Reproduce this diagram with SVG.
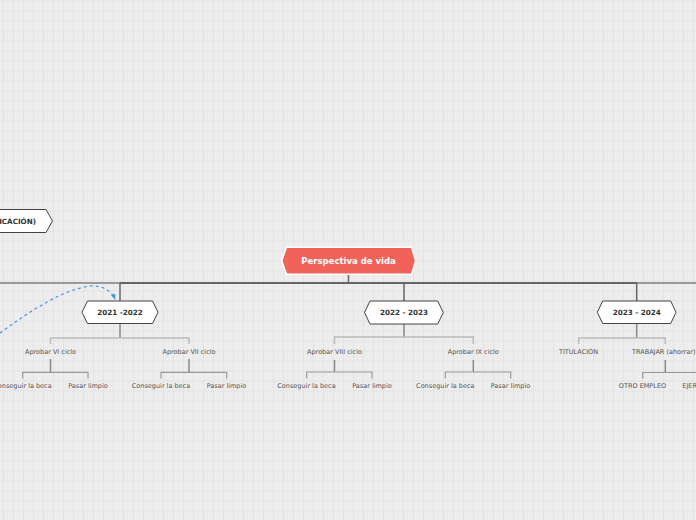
<svg xmlns="http://www.w3.org/2000/svg" width="696" height="520" viewBox="0 0 696 520">
<defs>
<pattern id="grid" x="3" y="0.5" width="10" height="10" patternUnits="userSpaceOnUse">
<path d="M0.5 0V10M0 0.5H10" stroke="#e3e3e3" stroke-width="1" fill="none"/>
</pattern>
<marker id="arr" viewBox="0 0 10 10" refX="8" refY="5" markerWidth="5" markerHeight="5" orient="auto">
<path d="M0 1L9 5L0 9z" fill="#4a90e2"/>
</marker>
<style>
.yr{fill:#fff;stroke:#444;stroke-width:1}
.yt{font-family:"DejaVu Sans",sans-serif;font-weight:bold;font-size:7.2px;fill:#333;text-anchor:middle}
.st{font-family:"DejaVu Sans",sans-serif;font-size:6.5px;fill:#555;text-anchor:middle}
.c1{stroke:#888;stroke-width:1.5;fill:none}
.c2{stroke:#bbb;stroke-width:1.5;fill:none}
.c3{stroke:#999;stroke-width:1.2;fill:none}
</style>
</defs>
<rect width="696" height="520" fill="#ededed"/>
<rect width="696" height="520" fill="url(#grid)"/>

<g id="connectors">
<path d="M0 283H120" stroke="#999" stroke-width="2"/>
<path d="M120 283H637" stroke="#666" stroke-width="2"/>
<path d="M637 283H696" stroke="#999" stroke-width="2"/>
<path d="M348.5 274V283M120 283V301M404 283V301M636.7 283V301" stroke="#666" stroke-width="1.5" fill="none"/>
<path class="c1" d="M120 323.5V338"/>
<path class="c2" d="M50.5 344V338H189V344"/>
<path class="c1" d="M50.5 359V372"/>
<path class="c3" d="M22.7 378.5V372.3H88V378.5"/>
<path class="c1" d="M189 359V372"/>
<path class="c3" d="M161 378.5V372.3H226.7V378.5"/>
<path class="c1" d="M404 324V337"/>
<path class="c2" d="M334.5 344V337H473.3V344"/>
<path class="c1" d="M334.5 360V372"/>
<path class="c3" d="M306.7 378.5V372H372V378.5"/>
<path class="c1" d="M473.3 360V372"/>
<path class="c3" d="M445.3 378.5V372H510.7V378.5"/>
<path class="c1" d="M636.7 323.5V338"/>
<path class="c2" d="M578.7 344V338H665.3V344"/>
<path class="c1" d="M665.3 360V372.5"/>
<path class="c3" d="M642.7 378.5V372.5H700"/>
<path d="M0 333C25 315 60 290 90 286C104 285 112 292 115 299" stroke="#4a90e2" stroke-width="1.2" stroke-dasharray="3 3" fill="none" marker-end="url(#arr)"/>
</g>

<g id="node-left">
<polygon class="yr" points="-10,209.5 46,209.5 52.5,221 46,232.5 -10,232.5"/>
<text class="yt" x="36" y="223.5" style="text-anchor:end">ICACIÓN)</text>
</g>

<g id="node-root">
<polygon points="281.7,260.7 286.5,247.3 411.5,247.3 415.7,260.7 411.5,274.3 286.5,274.3" fill="#f1635a" stroke="#fff" stroke-width="1.5"/>
<text x="348.5" y="264" font-family="DejaVu Sans, sans-serif" font-weight="bold" font-size="8.5" fill="#fff" text-anchor="middle">Perspectiva de vida</text>
</g>

<g id="node-2021">
<polygon class="yr" points="82,312.3 87.5,301 152.5,301 158,312.3 152.5,323.5 87.5,323.5"/>
<text class="yt" x="120" y="315">2021 -2022</text>
</g>
<g id="node-2022">
<polygon class="yr" points="364.5,312.5 370,301 437.7,301 443.3,312.5 437.7,324 370,324"/>
<text class="yt" x="404" y="315.2">2022 - 2023</text>
</g>
<g id="node-2023">
<polygon class="yr" points="597.3,312.3 602.7,301 670.7,301 676,312.3 670.7,323.5 602.7,323.5"/>
<text class="yt" x="636.7" y="315">2023 - 2024</text>
</g>

<g id="node-vi"><text class="st" x="50.5" y="354.3">Aprobar VI ciclo</text></g>
<g id="node-vi-a"><text class="st" x="22.5" y="387.7">Conseguir la beca</text></g>
<g id="node-vi-b"><text class="st" x="88" y="387.7">Pasar limpio</text></g>
<g id="node-vii"><text class="st" x="189" y="354.3">Aprobar VII ciclo</text></g>
<g id="node-vii-a"><text class="st" x="161" y="387.7">Conseguir la beca</text></g>
<g id="node-vii-b"><text class="st" x="226.5" y="387.7">Pasar limpio</text></g>
<g id="node-viii"><text class="st" x="334.5" y="354">Aprobar VIII ciclo</text></g>
<g id="node-viii-a"><text class="st" x="306.5" y="387.5">Conseguir la beca</text></g>
<g id="node-viii-b"><text class="st" x="372" y="387.5">Pasar limpio</text></g>
<g id="node-ix"><text class="st" x="473.3" y="354">Aprobar IX ciclo</text></g>
<g id="node-ix-a"><text class="st" x="445.3" y="387.5">Conseguir la beca</text></g>
<g id="node-ix-b"><text class="st" x="510.5" y="387.5">Pasar limpio</text></g>
<g id="node-tit"><text class="st" x="578.5" y="354">TITULACIÓN</text></g>
<g id="node-trab"><text class="st" x="632" y="354" style="text-anchor:start">TRABAJAR (ahorrar)</text></g>
<g id="node-otro"><text class="st" x="642.5" y="387.5">OTRO EMPLEO</text></g>
<g id="node-ejer"><text class="st" x="682.3" y="387.5" style="text-anchor:start">EJERCER</text></g>
</svg>
